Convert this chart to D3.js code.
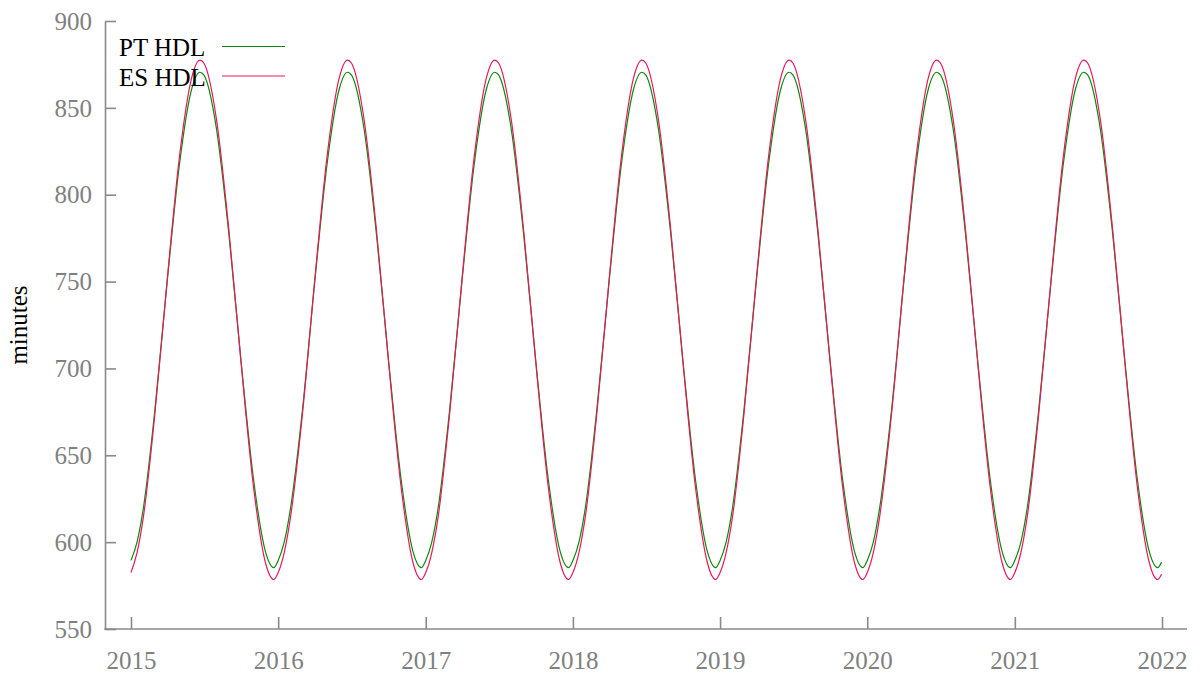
<!DOCTYPE html>
<html>
<head>
<meta charset="utf-8">
<script src="https://cdn.jsdelivr.net/npm/d3@7"></script>
<style>
  html, body { margin: 0; padding: 0; background: #ffffff; }
  svg { display: block; }
  svg text { font-family: 'Liberation Serif', 'Times New Roman', serif !important; }
</style>
</head>
<body>
<svg id="chart" width="1200" height="675"></svg>
<script>
// ---- data ----
const years = [2015, 2016, 2017, 2018, 2019, 2020, 2021];
const monthDays = ["01-01","01-16","02-01","03-01","04-01","05-01","06-01","06-21","07-01","08-01","09-01","10-01","11-01","12-01","12-21"];
const lastDate = "2021-12-31";
const yTicks = [550, 600, 650, 700, 750, 800, 850, 900];
const xTickYears = [2015, 2016, 2017, 2018, 2019, 2020, 2021, 2022];
const seriesNames = ["PT HDL", "ES HDL"];

const ptHDL = [
  589.5, 600.0, 620.1, 675.6, 750.5, 817.1, 861.3, 870.5, 868.8, 837.9, 776.7, 704.1, 635.9, 594.1, 585.3,
  589.5, 600.0, 620.1, 675.6, 750.5, 817.1, 861.3, 870.5, 868.8, 837.9, 776.7, 704.1, 635.9, 594.1, 585.3,
  589.5, 600.0, 620.1, 675.6, 750.5, 817.1, 861.3, 870.5, 868.8, 837.9, 776.7, 704.1, 635.9, 594.1, 585.3,
  589.5, 600.0, 620.1, 675.6, 750.5, 817.1, 861.3, 870.5, 868.8, 837.9, 776.7, 704.1, 635.9, 594.1, 585.3,
  589.5, 600.0, 620.1, 675.6, 750.5, 817.1, 861.3, 870.5, 868.8, 837.9, 776.7, 704.1, 635.9, 594.1, 585.3,
  589.5, 600.0, 620.1, 675.6, 750.5, 817.1, 861.3, 870.5, 868.8, 837.9, 776.7, 704.1, 635.9, 594.1, 585.3,
  589.5, 600.0, 620.1, 675.6, 750.5, 817.1, 861.3, 870.5, 868.8, 837.9, 776.7, 704.1, 635.9, 594.1, 585.3,
  588.5
];
const esHDL = [
  582.5, 594.0, 615.0, 673.2, 751.7, 821.5, 867.8, 877.5, 875.7, 843.4, 779.1, 703.1, 631.5, 587.7, 578.5,
  582.5, 594.0, 615.0, 673.2, 751.7, 821.5, 867.8, 877.5, 875.7, 843.4, 779.1, 703.1, 631.5, 587.7, 578.5,
  582.5, 594.0, 615.0, 673.2, 751.7, 821.5, 867.8, 877.5, 875.7, 843.4, 779.1, 703.1, 631.5, 587.7, 578.5,
  582.5, 594.0, 615.0, 673.2, 751.7, 821.5, 867.8, 877.5, 875.7, 843.4, 779.1, 703.1, 631.5, 587.7, 578.5,
  582.5, 594.0, 615.0, 673.2, 751.7, 821.5, 867.8, 877.5, 875.7, 843.4, 779.1, 703.1, 631.5, 587.7, 578.5,
  582.5, 594.0, 615.0, 673.2, 751.7, 821.5, 867.8, 877.5, 875.7, 843.4, 779.1, 703.1, 631.5, 587.7, 578.5,
  582.5, 594.0, 615.0, 673.2, 751.7, 821.5, 867.8, 877.5, 875.7, 843.4, 779.1, 703.1, 631.5, 587.7, 578.5,
  581.5
];

// ---- build table ----
const parse = d3.utcParse("%Y-%m-%d");
const dateStrings = [];
years.forEach(y => monthDays.forEach(md => dateStrings.push(y + "-" + md)));
dateStrings.push(lastDate);
const dates = dateStrings.map(parse);
const series = [
  { name: seriesNames[0], values: ptHDL, color: "#0a8a0a" },
  { name: seriesNames[1], values: esHDL, color: "#e8185c" }
];

// ---- layout ----
const svg = d3.select("#chart");
const axisColor = "#8a8a8a";
const labelColor = "#808080";
const fontSize = 25;
const serif = "'Liberation Serif', 'Times New Roman', serif";

const x = d3.scaleUtc()
  .domain([Date.UTC(2015, 0, 1), Date.UTC(2022, 0, 1)])
  .range([131, 1162]);
const y = d3.scaleLinear().domain([550, 900]).range([629, 21]);
const axisLeftX = 105;
const axisRightX = 1187;

// y axis
const gy = svg.append("g").attr("transform", `translate(${axisLeftX},0)`)
  .call(d3.axisLeft(y).tickValues(yTicks).tickSizeInner(-11).tickSizeOuter(0).tickPadding(13).tickFormat(d3.format("d")));
gy.attr("font-family", null).attr("font-size", null);
gy.select(".domain").attr("stroke", axisColor).attr("stroke-width", 1.6);
gy.selectAll(".tick line").attr("stroke", axisColor).attr("stroke-width", 1.6);
gy.selectAll(".tick text").attr("fill", labelColor)
  .style("font-size", fontSize + "px").style("font-family", serif).attr("dy", "0.33em");

// x axis
const gx = svg.append("g").attr("transform", `translate(0,${y(550)})`)
  .call(d3.axisBottom(x).tickValues(xTickYears.map(v => new Date(Date.UTC(v, 0, 1))))
    .tickSizeInner(-12).tickSizeOuter(0).tickPadding(22).tickFormat(d3.utcFormat("%Y")));
gx.attr("font-family", null).attr("font-size", null);
gx.select(".domain").remove();
gx.selectAll(".tick line").attr("stroke", axisColor).attr("stroke-width", 1.6);
gx.selectAll(".tick text").attr("fill", labelColor)
  .style("font-size", fontSize + "px").style("font-family", serif).attr("dy", "0.71em");
svg.append("line")
  .attr("x1", axisLeftX - 0.8).attr("x2", axisRightX)
  .attr("y1", y(550)).attr("y2", y(550))
  .attr("stroke", axisColor).attr("stroke-width", 1.6);

// y label
svg.append("text")
  .attr("transform", `translate(27,${(y(550) + y(900)) / 2}) rotate(-90)`)
  .attr("text-anchor", "middle")
  .style("font-size", fontSize + "px").style("font-family", serif)
  .attr("fill", "#000")
  .text("minutes");

// lines
const line = d3.line()
  .x((d, i) => x(dates[i]))
  .y(d => y(d))
  .curve(d3.curveMonotoneX);
series.forEach(s => {
  svg.append("path")
    .datum(s.values)
    .attr("d", line)
    .attr("fill", "none")
    .attr("stroke", s.color)
    .attr("stroke-width", 1.2);
});

// legend
series.forEach((s, i) => {
  const cy = 46.5 + i * 29.5;
  svg.append("text")
    .attr("x", 119).attr("y", cy + 9.5)
    .style("font-size", fontSize + "px").style("font-family", serif)
    .attr("fill", "#000")
    .text(s.name);
  svg.append("line")
    .attr("x1", 222).attr("x2", 285)
    .attr("y1", cy).attr("y2", cy)
    .attr("stroke", s.color).attr("stroke-width", 1.2);
});
</script>
</body>
</html>
